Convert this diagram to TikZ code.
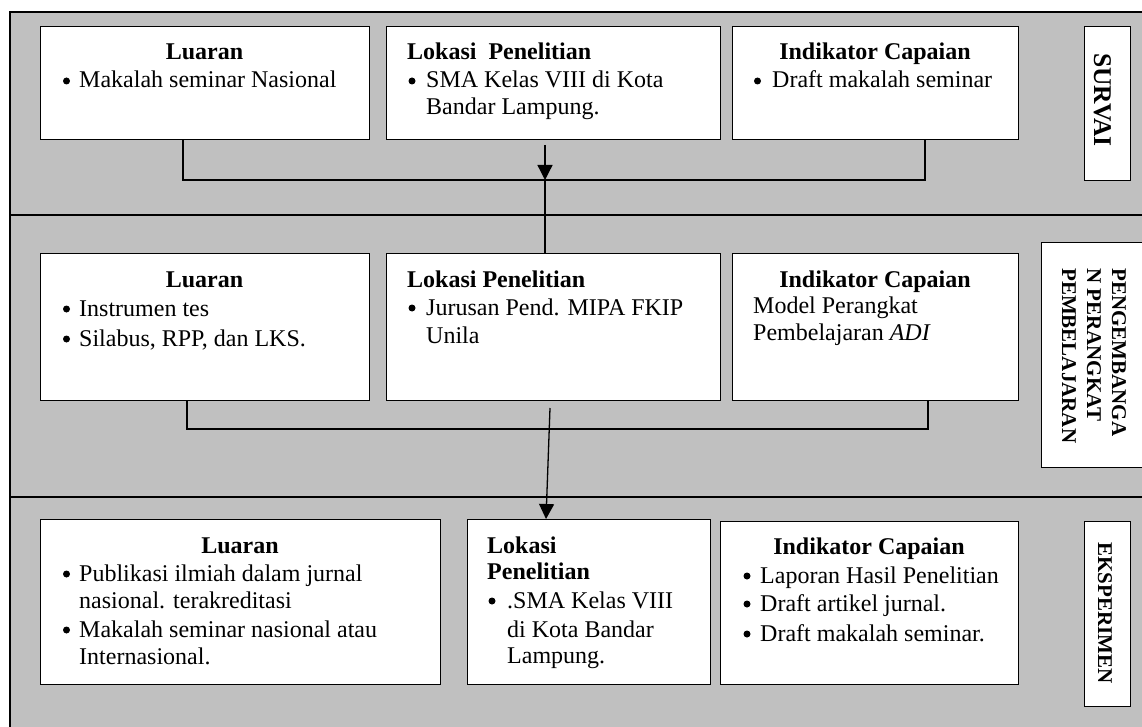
\documentclass[tikz,border=0pt]{standalone}
\usepackage{fontspec}
\setmainfont{Liberation Serif}
\usetikzlibrary{arrows.meta}
\definecolor{bgray}{RGB}{192,192,192}
\newcommand\fsz{\fontsize{24}{27.6}\selectfont}
\tikzset{
  box/.style={draw, line width=1.4pt, fill=white, anchor=north west, inner sep=0pt},
  txt/.style={anchor=base west, inner sep=0pt, font=\fsz},
  hd/.style={anchor=base, inner sep=0pt, font=\fsz\bfseries},
  hdl/.style={anchor=base west, inner sep=0pt, font=\fsz\bfseries},
  bul/.style={circle, fill=black, inner sep=0pt, minimum size=7pt},
  vt/.style={anchor=base west, rotate=-90, inner sep=0pt},
  conn/.style={line width=1.3pt},
  arr/.style={line width=1.3pt, -{Triangle[width=15pt,length=15pt]}}
}
\begin{document}
\begin{tikzpicture}[x=1pt,y=-1pt]
\useasboundingbox (0,0) rectangle (1142,727);
% background frame
\fill[bgray] (10,12) rectangle (1170,750);
\draw[line width=1.4pt] (1170,12) -- (10,12) -- (10,750);
\draw[line width=1.4pt] (10,215) -- (1170,215);
\draw[line width=1.4pt] (10,497) -- (1170,497);

% ---------- SURVAI ----------
\node[box, minimum width=329pt, minimum height=113pt] (b1l) at (40,26) {};
\node[box, minimum width=334pt, minimum height=113pt] (b1k) at (386,26) {};
\node[box, minimum width=286pt, minimum height=113pt] (b1i) at (732,26) {};
\node[box, minimum width=46pt, minimum height=154pt] (b1s) at (1084,26) {};

\node[hd] (h1l) at (204.5,60) {Luaran};
\node[bul] (u1l) at (66.5,81) {};
\node[txt] (t1l) at (79,88) {Makalah seminar Nasional};

\node[hdl] (h1k) at (407,60) {Lokasi\ \ Penelitian};
\node[bul] (u1k) at (412,81) {};
\node[txt] (t1k1) at (426,88) {SMA Kelas VIII di Kota};
\node[txt] (t1k2) at (426,115) {Bandar Lampung.};

\node[hd] (h1i) at (875,60) {Indikator Capaian};
\node[bul] (u1i) at (757.5,81) {};
\node[txt] (t1i) at (772,88) {Draft makalah seminar};

\node[vt, font=\fontsize{25.5}{28}\selectfont\bfseries] (s1) at (1094,53) {SURVAI};

\coordinate (c1a) at (183,180);
\coordinate (c1b) at (925,180);
\draw[conn] (b1l.south -| c1a) -- (c1a) -- (c1b) -- (b1i.south -| c1b);
\coordinate (a1s) at (545,145);
\coordinate (a1e) at (545,180);
\draw[arr] (a1s) -- (a1e);

% ---------- PENGEMBANGAN ----------
\node[box, minimum width=329pt, minimum height=147pt] (b2l) at (40,253) {};
\node[box, minimum width=334pt, minimum height=147pt] (b2k) at (386,253) {};
\node[box, minimum width=286pt, minimum height=147pt] (b2i) at (732,253) {};
\node[box, minimum width=110pt, minimum height=225pt] (b2s) at (1041,242) {};

\draw[conn] (a1e) -- (b2k.north -| a1e);

\node[hd] (h2l) at (204.5,287) {Luaran};
\node[bul] (u2l1) at (66.5,309) {};
\node[txt] (t2l1) at (79,316) {Instrumen tes};
\node[bul] (u2l2) at (66.5,339) {};
\node[txt] (t2l2) at (79,346) {Silabus, RPP, dan LKS.};

\node[hdl] (h2k) at (407,287) {Lokasi Penelitian};
\node[bul] (u2k) at (412,308) {};
\node[txt] (t2k1) at (426,315) {Jurusan Pend. MIPA FKIP};
\node[txt] (t2k2) at (426,343) {Unila};

\node[hd] (h2i) at (875,287) {Indikator Capaian};
\node[txt] (t2i1) at (753,313) {Model Perangkat};
\node[txt] (t2i2) at (753,340) {Pembelajaran \textit{ADI}};

\node[vt, font=\fontsize{21}{25}\selectfont\bfseries] (s2a) at (1112,268) {PENGEMBANGA};
\node[vt, font=\fontsize{21}{25}\selectfont\bfseries] (s2b) at (1087,268) {N PERANGKAT};
\node[vt, font=\fontsize{21}{25}\selectfont\bfseries] (s2c) at (1062,268) {PEMBELAJARAN};

\coordinate (c2a) at (187,429);
\coordinate (c2b) at (928,429);
\draw[conn] (b2l.south -| c2a) -- (c2a) -- (c2b) -- (b2i.south -| c2b);
\coordinate (a2s) at (550,408);
\coordinate (a2e) at (546,519);

% ---------- EKSPERIMEN ----------
\node[box, minimum width=400pt, minimum height=165pt] (b3l) at (40,519) {};
\node[box, minimum width=243pt, minimum height=165pt] (b3k) at (467,519) {};
\node[box, minimum width=298pt, minimum height=163pt] (b3i) at (720,521) {};
\node[box, minimum width=46pt, minimum height=185pt] (b3s) at (1084,521) {};

\draw[arr] (a2s) -- (a2e);

\node[hd] (h3l) at (240,553) {Luaran};
\node[bul] (u3l1) at (66.5,574) {};
\node[txt] (t3l1) at (79,581) {Publikasi ilmiah dalam jurnal};
\node[txt] (t3l2) at (79,608) {nasional. terakreditasi};
\node[bul] (u3l2) at (66.5,630) {};
\node[txt] (t3l3) at (79,637) {Makalah seminar nasional atau};
\node[txt] (t3l4) at (79,664) {Internasional.};

\node[hdl] (h3k1) at (487,553) {Lokasi};
\node[hdl] (h3k2) at (487,579) {Penelitian};
\node[bul] (u3k) at (492,601) {};
\node[txt] (t3k1) at (507,608) {.SMA Kelas VIII};
\node[txt] (t3k2) at (507,637) {di Kota Bandar};
\node[txt] (t3k3) at (507,663) {Lampung.};

\node[hd] (h3i) at (869,554) {Indikator Capaian};
\node[bul] (u3i1) at (747,576) {};
\node[txt] (t3i1) at (760,583) {Laporan Hasil Penelitian};
\node[bul] (u3i2) at (747,604) {};
\node[txt] (t3i2) at (760,611) {Draft artikel jurnal.};
\node[bul] (u3i3) at (747,634) {};
\node[txt] (t3i3) at (760,641) {Draft makalah seminar.};

\node[vt, font=\fontsize{21}{25}\selectfont\bfseries] (s3) at (1098,542) {EKSPERIMEN};
\end{tikzpicture}
\end{document}
